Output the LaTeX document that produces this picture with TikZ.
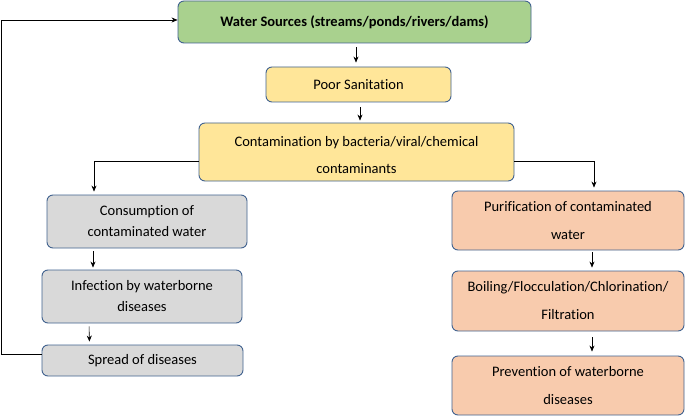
\documentclass[tikz,border=0pt]{standalone}
\usepackage{fontspec}
\setmainfont[Ligatures=NoCommon]{Carlito}
\usetikzlibrary{arrows.meta}
\definecolor{bordercol}{HTML}{41628F}
\definecolor{greenfill}{HTML}{A9D18E}
\definecolor{yellowfill}{HTML}{FFE699}
\definecolor{grayfill}{HTML}{D9D9D9}
\definecolor{peachfill}{HTML}{F8CBAD}
\tikzset{
  flowbox/.style={draw=bordercol, line width=0.9pt, rounded corners=6pt, inner sep=0pt, align=center},
  wide/.style={font=\fontsize{14.5}{28}\selectfont},
  narrow/.style={font=\fontsize{14.5}{21}\selectfont},
  arr/.style={-{Stealth[length=6pt,width=5pt]}, line width=0.6pt, black}
}
\begin{document}
\begin{tikzpicture}[x=1pt,y=-1pt]
\useasboundingbox[fill=white] (0,0) rectangle (685,417);
\node[flowbox, fill=greenfill, minimum width=353pt, minimum height=42pt, font=\fontsize{14.5}{16}\selectfont\bfseries] (ws) at (354.5,22) {Water Sources (streams/ponds/rivers/dams)};
\node[flowbox, fill=yellowfill, minimum width=185pt, minimum height=35pt, wide] (ps) at (358.5,84.5) {Poor Sanitation};
\node[flowbox, fill=yellowfill, minimum width=315pt, minimum height=58pt] (ct) at (356.5,152) {};
\node[align=center, inner sep=0pt, font=\fontsize{14.5}{27}\selectfont] (ctt) at ([yshift=-3pt]ct.center) {Contamination by bacteria/viral/chemical\\contaminants};
\node[flowbox, fill=grayfill, minimum width=200pt, minimum height=53pt, narrow] (cs) at (147,221.5) {Consumption of\\contaminated water};
\node[flowbox, fill=grayfill, minimum width=200pt, minimum height=53pt, narrow] (inf) at (142,296.5) {Infection by waterborne\\diseases};
\node[flowbox, fill=grayfill, minimum width=201pt, minimum height=31pt, wide] (sp) at (142.5,360.5) {Spread of diseases};
\node[flowbox, fill=peachfill, minimum width=232pt, minimum height=59pt, wide] (pu) at (568,220.5) {Purification of contaminated\\water};
\node[flowbox, fill=peachfill, minimum width=232pt, minimum height=60pt, wide] (bo) at (568,301) {Boiling/Flocculation/Chlorination/\\Filtration};
\node[flowbox, fill=peachfill, minimum width=232pt, minimum height=59pt, wide] (pr) at (568,385.5) {Prevention of waterborne\\diseases};
% arrows
\draw[arr, shorten <=4pt, shorten >=4pt] ([xshift=1.5pt]ws.south) -- ([xshift=-2.5pt]ps.north);
\draw[arr, shorten <=5pt, shorten >=2pt] ([xshift=1.5pt]ps.south) -- ([xshift=3.5pt]ct.north);
\draw[arr, shorten >=3pt] ([yshift=20pt]ct.south west) -| ([xshift=-53pt]cs.north);
\draw[arr, shorten >=3pt] ([yshift=20pt]ct.south east) -| ([xshift=26pt]pu.north);
\draw[arr, shorten <=3pt, shorten >=2pt] ([xshift=-54pt]cs.south) -- ([xshift=-49pt]inf.north);
\draw[arr, shorten <=3pt, shorten >=3pt] ([xshift=-53pt]inf.south) -- ([xshift=-53pt]sp.north);
\draw[arr, shorten <=2pt, shorten >=3pt] ([xshift=24pt]pu.south) -- ([xshift=24pt]bo.north);
\draw[arr, shorten <=6pt, shorten >=4pt] ([xshift=24pt]bo.south) -- ([xshift=24pt]pr.north);
\draw[arr] ([yshift=6.5pt]sp.west) -- ++(-40,0) |- ([yshift=2pt]ws.west);
\end{tikzpicture}
\end{document}
